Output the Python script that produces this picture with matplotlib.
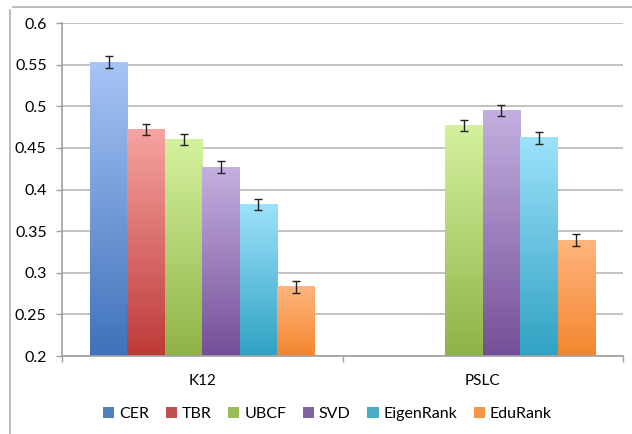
import numpy as np
import matplotlib
matplotlib.use('Agg')
import matplotlib.pyplot as plt
from matplotlib.colors import LinearSegmentedColormap
from matplotlib.patches import Patch
from matplotlib.lines import Line2D

# Datos
grupos = ['K12', 'PSLC']
metodos = ['CER', 'TBR', 'UBCF', 'SVD', 'EigenRank', 'EduRank']
k12 = [0.553, 0.472, 0.460, 0.427, 0.382, 0.283]
pslc = [np.nan, np.nan, 0.477, 0.495, 0.462, 0.339]
err_k12 = [0.007, 0.007, 0.007, 0.007, 0.007, 0.007]
err_pslc = [0, 0, 0.007, 0.007, 0.007, 0.007]

# colores: arriba (claro) y abajo (base)
col_top = ['#a7c4f5', '#f6a4a2', '#d4f29e', '#c4b0e0', '#9de2fb', '#ffb57e']
col_bot = ['#3f72ba', '#be3a38', '#8fb347', '#744f98', '#30a2c3', '#f3862f']
col_leg = ['#4f81bd', '#c0504d', '#9bbb59', '#8064a2', '#4bacc6', '#f79646']

plt.rcParams['font.family'] = ['Lato', 'DejaVu Sans']

fig = plt.figure(figsize=(6.32, 4.34), dpi=100)
ax = fig.add_axes([0.0981, 0.1797, 0.8877, 0.7673])

ymin, ymax = 0.2, 0.6
n = len(metodos)
w = 0.8 / n
x = np.arange(len(grupos))
valores = np.array([k12, pslc])
errores = np.array([err_k12, err_pslc])

for j in range(n):
    cmap = LinearSegmentedColormap.from_list('g', [col_bot[j], col_top[j]])
    grad = np.linspace(0, 1, 256).reshape(-1, 1)
    for i in range(len(grupos)):
        v = valores[i, j]
        if np.isnan(v):
            continue
        x0 = x[i] - 0.4 + j * w
        ax.imshow(grad, cmap=cmap, origin='lower', aspect='auto',
                  extent=(x0, x0 + w, ymin, v), zorder=2)
        ax.errorbar(x0 + w / 2, v, yerr=errores[i, j], fmt='none',
                    ecolor='#222222', elinewidth=1, capsize=3, capthick=1, zorder=4)

ax.set_xlim(-0.5, 1.5)
ax.set_ylim(ymin, ymax)
ax.set_yticks(np.arange(0.2, 0.601, 0.05))
ax.set_yticklabels(['0.2', '0.25', '0.3', '0.35', '0.4', '0.45', '0.5', '0.55', '0.6'])
ax.set_xticks(x)
ax.set_xticklabels(grupos)
ax.set_xticks([-0.5, 0.5, 1.5], minor=True)
ax.tick_params(axis='x', which='major', length=0, pad=13, labelsize=11)
ax.tick_params(axis='x', which='minor', length=4, color='#a0a0a0', width=1)
ax.tick_params(axis='y', length=4, color='#a0a0a0', width=1, pad=7, labelsize=11.5)
ax.grid(axis='y', color='#bdbdbd', linewidth=1.3, zorder=0)
ax.set_axisbelow(True)
for s in ['top', 'right']:
    ax.spines[s].set_visible(False)
for s in ['left', 'bottom']:
    ax.spines[s].set_color('#a0a0a0')
    ax.spines[s].set_linewidth(1.2)

handles = [Patch(facecolor=c, edgecolor='none') for c in col_leg]
fig.legend(handles, metodos, loc='center', bbox_to_anchor=(0.518, 0.047), ncol=6,
           frameon=False, fontsize=11.5, handlelength=0.7, handleheight=0.7,
           handletextpad=0.3, columnspacing=1.05)

# marco exterior (solo izquierda y arriba visibles)
fig.add_artist(Line2D([10 / 632, 10 / 632], [0, 1 - 10 / 434], color='#b0b0b0', lw=1.2))
fig.add_artist(Line2D([13 / 632, 1], [1 - 7 / 434, 1 - 7 / 434], color='#b0b0b0', lw=1.2))

fig.savefig('out.png', dpi=100)
